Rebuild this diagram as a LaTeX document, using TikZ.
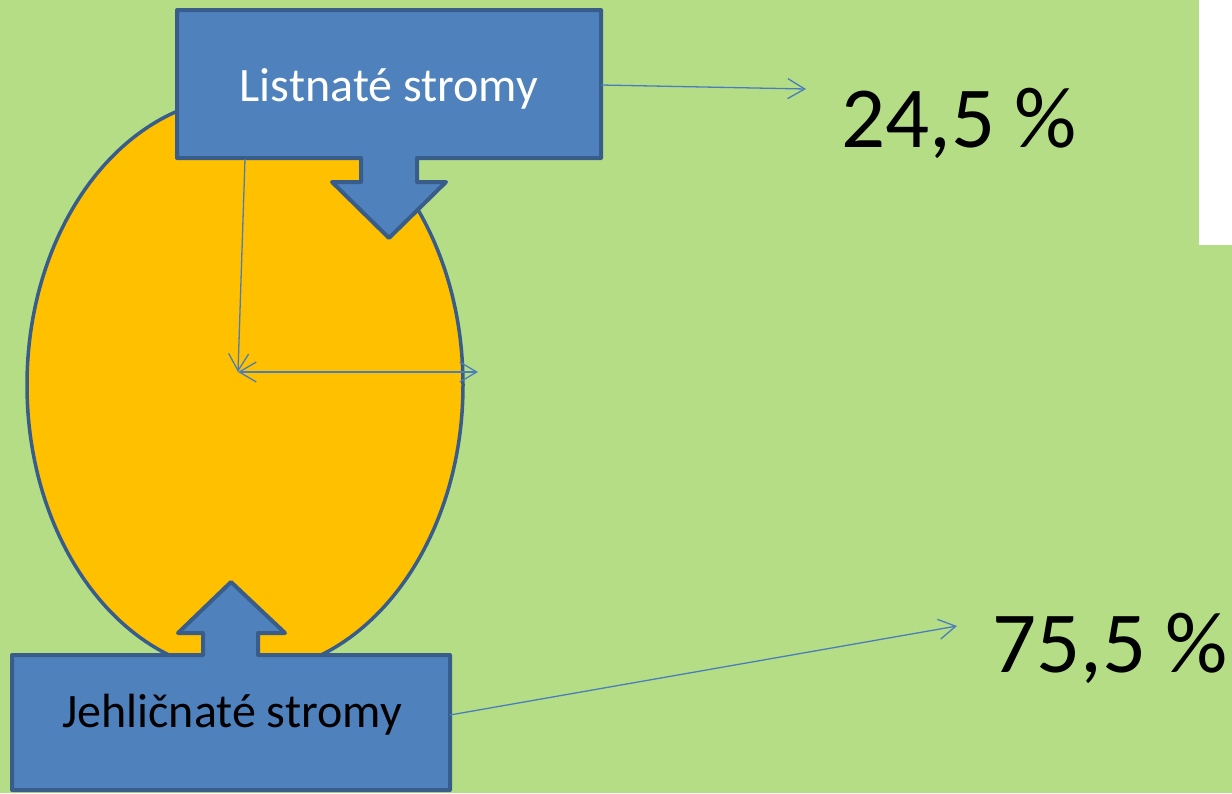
\documentclass[tikz,border=0pt]{standalone}
\usepackage{fontspec}
\setmainfont{Carlito}
\usetikzlibrary{arrows.meta}
\definecolor{bggreen}{RGB}{181,221,134}
\definecolor{boxblue}{RGB}{79,129,189}
\definecolor{boxedge}{RGB}{56,93,138}
\definecolor{ovalfill}{RGB}{255,192,0}
\definecolor{thinblue}{RGB}{74,126,187}
\tikzset{
  callout/.style={fill=boxblue, draw=boxedge, line width=4pt, line join=round},
  oval/.style={fill=ovalfill, draw=boxedge, line width=3.5pt},
  thin/.style={draw=thinblue, line width=1.3pt, -{Straight Barb[length=17pt,width=20pt,line width=1.3pt]}},
  boxtext/.style={font=\fontsize{48}{58}\selectfont, anchor=base, inner sep=0pt},
  pct/.style={font=\fontsize{87}{100}\selectfont, anchor=base, inner sep=0pt, text=black}
}
\begin{document}
\begin{tikzpicture}[x=1pt,y=-1pt]
\fill[bggreen] (0,0) rectangle (1232,793);
\useasboundingbox (0,0) rectangle (1232,793);
\fill[white] (1199,0) rectangle (1232,245);
% oval
\path[oval] (245,385) ellipse [x radius=218, y radius=288];
% top callout
\path[callout] (177,10) -- (601,10) -- (601,158) -- (417,158) -- (417,182) -- (446,182)
  -- (389,238) -- (332,182) -- (361,182) -- (361,158) -- (177,158) -- cycle;
% bottom callout
\path[callout] (12,655) -- (203,655) -- (203,633) -- (178,633) -- (231,582) -- (285,633)
  -- (258,633) -- (258,655) -- (450,655) -- (450,790) -- (12,790) -- cycle;
% texts
\node[boxtext, text=white] (lt) at (389,101) {Listnaté stromy};
\node[boxtext, text=black] (jt) at (232,727) {Jehličnaté stromy};
\node[pct] (p1) at (959,147) {24,5 \%};
\node[pct] (p2) at (1110,672) {75,5 \%};
% connector points
\coordinate (a1s) at (601,85);
\coordinate (a1e) at (806,89);
\coordinate (a2s) at (245,159);
\coordinate (ctr) at (238,372);
\coordinate (rim) at (478,372);
\coordinate (a3s) at (450,715);
\coordinate (a3e) at (957,626);
\draw[thin] (a1s) -- (a1e);
\draw[thin] (a2s) -- (ctr);
\draw[thin, {Straight Barb[length=17pt,width=20pt,line width=1.3pt]}-{Straight Barb[length=17pt,width=20pt,line width=1.3pt]}] (ctr) -- (rim);
\draw[thin] (a3s) -- (a3e);
\end{tikzpicture}
\end{document}
